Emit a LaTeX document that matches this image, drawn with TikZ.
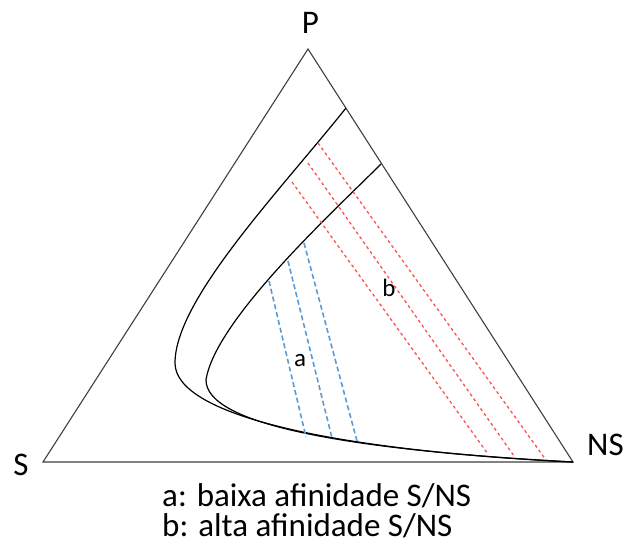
\documentclass[tikz,border=0pt]{standalone}
\usepackage{fontspec}
\setmainfont{Carlito}
\definecolor{edgegray}{HTML}{404040}
\definecolor{dashblue}{HTML}{5B9BD5}
\definecolor{dashred}{HTML}{FF5050}
\begin{document}
\begin{tikzpicture}[x=1pt,y=-1pt,
  edge/.style={draw=edgegray,line width=1.1pt},
  curve/.style={draw=black,line width=1.2pt},
  bluedash/.style={draw=dashblue,line width=1.6pt,dash pattern=on 5pt off 3pt},
  reddash/.style={draw=dashred,line width=1.3pt,dash pattern=on 3pt off 3pt},
  vlabel/.style={inner sep=0pt,font=\fontsize{33}{33}\selectfont},
  slabel/.style={inner sep=0pt,font=\fontsize{25}{25}\selectfont},
  legend/.style={inner sep=0pt,anchor=base west,font=\fontsize{33}{29}\selectfont}]
\useasboundingbox (0,0) rectangle (626,547);
\fill[white] (0,0) rectangle (626,547);
% vertices
\coordinate (P) at (308,49);
\coordinate (S) at (43,462);
\coordinate (NS) at (573,462);
% curve points
\coordinate (o1) at (346,108);
\coordinate (oL) at (175,363);
\coordinate (i1) at (381,164);
\coordinate (iL) at (206,380);
% triangle
\draw[edge,line join=miter] (S) -- (P) -- (NS) -- cycle;
% curves
\draw[curve] (o1) .. controls (278,193) and (175,300) .. (oL)
  .. controls (175,415) and (330,450) .. (NS);
\draw[curve] (i1) .. controls (335,210) and (215,320) .. (iL)
  .. controls (206,425) and (350,450) .. (NS);
% red dashed lines
\coordinate (r1a) at (318,143); \coordinate (r1b) at (546,460);
\coordinate (r2a) at (308,163); \coordinate (r2b) at (514,456);
\coordinate (r3a) at (292,182); \coordinate (r3b) at (488,454);
\draw[reddash] (r1a) -- (r1b);
\draw[reddash] (r2a) -- (r2b);
\draw[reddash] (r3a) -- (r3b);
% blue dashed lines
\coordinate (b1a) at (269,281); \coordinate (b1b) at (306,437);
\coordinate (b2a) at (288,261); \coordinate (b2b) at (332,438);
\coordinate (b3a) at (304,243); \coordinate (b3b) at (357,441);
\draw[bluedash] (b1a) -- (b1b);
\draw[bluedash] (b2a) -- (b2b);
\draw[bluedash] (b3a) -- (b3b);
% labels
\node[vlabel,anchor=base] (lP) at (310.5,33) {P};
\node[vlabel,anchor=base] (lS) at (21,475) {S};
\node[vlabel,anchor=base west] (lNS) at (587,455) {NS};
\node[slabel,anchor=base] (la) at (300,366) {a};
\node[slabel,anchor=base] (lb) at (389,296) {b};
\node[legend] (leg1) at (162,506) {a: baixa afinidade S/NS};
\node[legend] (leg2) at (162,536) {b: alta afinidade S/NS};
\end{tikzpicture}
\end{document}
